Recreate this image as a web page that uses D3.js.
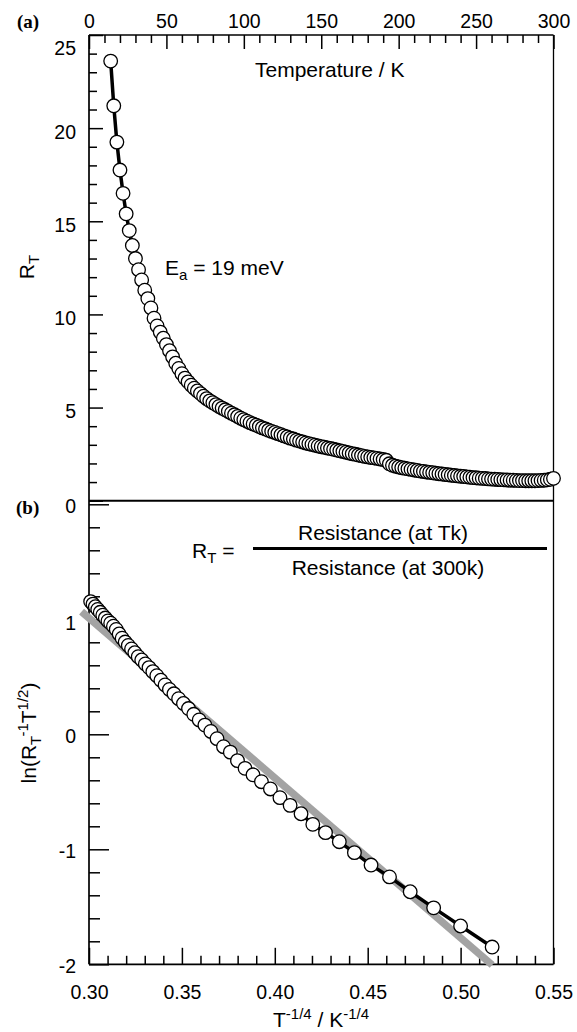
<!DOCTYPE html>
<html>
<head>
<meta charset="utf-8">
<script src="https://cdn.jsdelivr.net/npm/d3@7"></script>
<style>
  body { margin: 0; background: #fff; }
  text { font-family: "Liberation Sans", Arial, Helvetica, sans-serif; fill: #000; }
</style>
</head>
<body>
<div id="chart"></div>
<script>
// ---- data ----
// panel (a): normalised resistance against temperature
const temperature = [
  14, 16, 18, 20, 22, 24, 26, 28, 30, 32,
  34, 36, 38, 40, 42, 44, 46, 48, 50, 52,
  54, 56, 58, 60, 62, 64, 66, 68, 70, 72,
  74, 76, 78, 80, 82, 84, 86, 88, 90, 92,
  94, 96, 98, 100, 102, 104, 106, 108, 110, 112,
  114, 116, 118, 120, 122, 124, 126, 128, 130, 132,
  134, 136, 138, 140, 142, 144, 146, 148, 150, 152,
  154, 156, 158, 160, 162, 164, 166, 168, 170, 172,
  174, 176, 178, 180, 182, 184, 186, 188, 190, 192,
  194, 196, 198, 200, 202, 204, 206, 208, 210, 212,
  214, 216, 218, 220, 222, 224, 226, 228, 230, 232,
  234, 236, 238, 240, 242, 244, 246, 248, 250, 252,
  254, 256, 258, 260, 262, 264, 266, 268, 270, 272,
  274, 276, 278, 280, 282, 284, 286, 288, 290, 292,
  294, 296, 298, 300
];
const resistanceRatio = [
  23.6, 21.2, 19.25, 17.75, 16.5, 15.4, 14.5, 13.7, 13.0, 12.4,
  11.85, 11.3, 10.85, 10.35, 9.8, 9.38, 9.05, 8.72, 8.38, 8.05,
  7.72, 7.38, 7.1, 6.82, 6.58, 6.38, 6.2, 6.04, 5.89, 5.75,
  5.61, 5.48, 5.36, 5.26, 5.16, 5.06, 4.97, 4.88, 4.79, 4.7,
  4.61, 4.52, 4.43, 4.35, 4.27, 4.19, 4.12, 4.05, 3.98, 3.91,
  3.85, 3.78, 3.72, 3.66, 3.6, 3.54, 3.48, 3.42, 3.36, 3.31,
  3.25, 3.2, 3.15, 3.1, 3.06, 3.02, 2.98, 2.94, 2.9, 2.87,
  2.83, 2.8, 2.76, 2.72, 2.68, 2.64, 2.6, 2.56, 2.52, 2.49,
  2.45, 2.42, 2.38, 2.35, 2.32, 2.3, 2.27, 2.24, 2.21, 2.17,
  1.98, 1.9, 1.85, 1.81, 1.77, 1.74, 1.71, 1.68, 1.65, 1.62,
  1.59, 1.57, 1.54, 1.52, 1.5, 1.47, 1.45, 1.43, 1.41, 1.39,
  1.37, 1.35, 1.33, 1.31, 1.3, 1.28, 1.26, 1.24, 1.23, 1.21,
  1.2, 1.19, 1.17, 1.16, 1.15, 1.14, 1.13, 1.12, 1.11, 1.1,
  1.1, 1.09, 1.08, 1.08, 1.07, 1.07, 1.07, 1.07, 1.08, 1.09,
  1.1, 1.12, 1.15, 1.2
];

// panel (b): ln(R_T^-1 T^1/2) for the low temperature points
const lowTemperature = [
  14, 16, 18, 20, 22, 24, 26, 28, 30, 32,
  34, 36, 38, 40, 42, 44, 46, 48, 50, 52,
  54, 56, 58, 60, 62, 64, 66, 68, 70, 72,
  74, 76, 78, 80, 82, 84, 86, 88, 90, 92,
  94, 96, 98, 100, 102, 104, 106, 108, 110, 112,
  114, 116, 118, 120, 122
];
const lnRatio = [
  -1.85, -1.667, -1.509, -1.369, -1.24, -1.137, -1.029, -0.934, -0.855, -0.783,
  -0.691, -0.618, -0.551, -0.475, -0.412, -0.352, -0.296, -0.229, -0.155, -0.108,
  -0.038, 0.025, 0.08, 0.125, 0.174, 0.224, 0.268, 0.31, 0.352, 0.39,
  0.429, 0.47, 0.51, 0.545, 0.58, 0.612, 0.646, 0.675, 0.709, 0.742,
  0.773, 0.802, 0.836, 0.872, 0.912, 0.94, 0.966, 0.986, 1.011, 1.036,
  1.061, 1.086, 1.109, 1.132, 1.154
];

// straight-line fit drawn in grey
const fitX = [0.296, 0.517];
const fitY = [1.066, -2.006];

// tick labels
const tempTicks = [0, 50, 100, 150, 200, 250, 300];
const ratioTicks = [0, 5, 10, 15, 20, 25];
const lnTicks = [-2, -1, 0, 1, 2];
const invTicks = [0.30, 0.35, 0.40, 0.45, 0.50, 0.55];

// ---- layout ----
const W = 577, H = 1032;
const padL = 89, padR = 553.5;
const yTop = 35, yMid = 500.7, yBot = 964.3;

const svg = d3.select('#chart').append('svg').attr('width', W).attr('height', H);

const xTemp = d3.scaleLinear().domain([0, 300]).range([padL, padR]);
const yRatio = d3.scaleLinear().domain([0, 25]).range([yMid, yTop]);
const xInv = d3.scaleLinear().domain([0.30, 0.55]).range([padL, padR]);
const yLn = d3.scaleLinear().domain([-2, 2]).range([yBot, 504.3]);

const notIn = (majors) => (v) => !majors.some((m) => Math.abs(m - v) < 1e-6);

function drawAxis(axis, tx, ty, size = 19.5) {
  const g = svg.append('g').attr('transform', `translate(${tx},${ty})`).call(axis);
  g.select('.domain').remove();
  g.selectAll('line').attr('stroke', '#000').attr('stroke-width', 1.5);
  g.selectAll('text').style('font-size', size + 'px').style('font-family', '"Liberation Sans", Arial, sans-serif').attr('fill', '#000');
  return g;
}

// top temperature axis
drawAxis(d3.axisTop(xTemp).tickValues(tempTicks).tickSize(-14).tickPadding(7), 0, yTop);
drawAxis(
  d3.axisTop(xTemp).tickValues(d3.range(0, 301, 10).filter(notIn(tempTicks))).tickSize(-8).tickFormat(''),
  0, yTop
);

// left axis of panel (a)
const ga = drawAxis(d3.axisLeft(yRatio).tickValues(ratioTicks).tickSize(-14).tickPadding(13), padL, 0);
ga.selectAll('text').attr('y', (d) => (d === 25 ? 13 : d === 0 ? 6 : 4));
drawAxis(
  d3.axisLeft(yRatio).tickValues(d3.range(1, 25, 1).filter(notIn(ratioTicks))).tickSize(-8).tickFormat(''),
  padL, 0
);

// left axis of panel (b)
const gb = drawAxis(
  d3.axisLeft(yLn).tickValues(lnTicks).tickSize(-20).tickPadding(13).tickFormat((d) => (d === 2 ? '' : d)),
  padL, 0
);
gb.selectAll('text').attr('y', (d) => (d === 1 ? 4 : 2));
drawAxis(
  d3.axisLeft(yLn).tickValues(d3.range(-1.8, 2, 0.2).filter(notIn(lnTicks))).tickSize(-11).tickFormat(''),
  padL, 0
);

// bottom axis of panel (b)
drawAxis(
  d3.axisBottom(xInv).tickValues(invTicks).tickSize(-16.5).tickPadding(20.5).tickFormat(d3.format('.2f')),
  0, yBot
);
drawAxis(
  d3.axisBottom(xInv).tickValues(d3.range(0.30, 0.551, 0.01).filter(notIn(invTicks))).tickSize(-8.5).tickFormat(''),
  0, yBot
);

// frame
const frame = svg.append('g').attr('stroke', '#000').attr('fill', 'none');
frame.append('line').attr('x1', padL).attr('x2', padL).attr('y1', yTop).attr('y2', yBot).attr('stroke-width', 1.7);
frame.append('line').attr('x1', padL).attr('x2', padR).attr('y1', yTop).attr('y2', yTop).attr('stroke-width', 1.7);
frame.append('line').attr('x1', padR).attr('x2', padR).attr('y1', yTop).attr('y2', yBot).attr('stroke-width', 1.3);
frame.append('line').attr('x1', padL).attr('x2', padR).attr('y1', yMid).attr('y2', yMid).attr('stroke-width', 2);
frame.append('line').attr('x1', padL).attr('x2', padR).attr('y1', yBot).attr('y2', yBot).attr('stroke-width', 1.7);

// ---- panel (a) data ----
const dataA = temperature.map((t, i) => ({ x: t, y: resistanceRatio[i] }));
svg.append('path')
  .datum(dataA)
  .attr('fill', 'none')
  .attr('stroke', '#000')
  .attr('stroke-width', 3.5)
  .attr('d', d3.line().x((d) => xTemp(d.x)).y((d) => yRatio(d.y)));
svg.append('g')
  .selectAll('circle')
  .data(dataA)
  .enter()
  .append('circle')
  .attr('cx', (d) => xTemp(d.x))
  .attr('cy', (d) => yRatio(d.y))
  .attr('r', 6.8)
  .attr('fill', '#fff')
  .attr('stroke', '#000')
  .attr('stroke-width', 1.3);

// ---- panel (b) data ----
svg.append('line')
  .attr('x1', xInv(fitX[0])).attr('y1', yLn(fitY[0]))
  .attr('x2', xInv(fitX[1])).attr('y2', yLn(fitY[1]))
  .attr('stroke', '#a3a3a3')
  .attr('stroke-width', 7.5);

const dataB = lowTemperature.map((t, i) => ({ x: Math.pow(t, -0.25), y: lnRatio[i] })).reverse();
svg.append('path')
  .datum(dataB)
  .attr('fill', 'none')
  .attr('stroke', '#000')
  .attr('stroke-width', 3.5)
  .attr('d', d3.line().x((d) => xInv(d.x)).y((d) => yLn(d.y)));
svg.append('g')
  .selectAll('circle')
  .data(dataB)
  .enter()
  .append('circle')
  .attr('cx', (d) => xInv(d.x))
  .attr('cy', (d) => yLn(d.y))
  .attr('r', 6.8)
  .attr('fill', '#fff')
  .attr('stroke', '#000')
  .attr('stroke-width', 1.3);

// ---- labels ----
svg.append('text').attr('x', 17).attr('y', 28)
  .style('font-family', '"Liberation Serif", "Times New Roman", serif').style('font-weight', 'bold').style('font-size', '19px')
  .text('(a)');
svg.append('text').attr('x', 16).attr('y', 514)
  .style('font-family', '"Liberation Serif", "Times New Roman", serif').style('font-weight', 'bold').style('font-size', '19px')
  .text('(b)');

svg.append('text').attr('x', 255).attr('y', 77).style('font-size', '21px').text('Temperature / K');

const ea = svg.append('text').attr('x', 165).attr('y', 275).style('font-size', '21px');
ea.append('tspan').text('E');
ea.append('tspan').attr('dy', 5).style('font-size', '15px').text('a');
ea.append('tspan').attr('dy', -5).text(' = 19 meV');

// R_T axis title
const rt = svg.append('text').attr('transform', 'translate(34,267) rotate(-90)')
  .attr('text-anchor', 'middle').style('font-size', '21px');
rt.append('tspan').text('R');
rt.append('tspan').attr('dy', 5).style('font-size', '15px').text('T');

// ln axis title
const ln = svg.append('text').attr('transform', 'translate(36,733) rotate(-90)')
  .attr('text-anchor', 'middle').style('font-size', '21px');
ln.append('tspan').text('ln(R');
ln.append('tspan').attr('dy', 5).style('font-size', '15px').text('T');
ln.append('tspan').attr('dy', -13).style('font-size', '15px').text('-1');
ln.append('tspan').attr('dy', 8).text('T');
ln.append('tspan').attr('dy', -8).style('font-size', '15px').text('1/2');
ln.append('tspan').attr('dy', 8).text(')');

// x axis title of panel (b)
const xt = svg.append('text').attr('x', 321).attr('y', 1027)
  .attr('text-anchor', 'middle').style('font-size', '21px');
xt.append('tspan').text('T');
xt.append('tspan').attr('dy', -8).style('font-size', '15px').text('-1/4');
xt.append('tspan').attr('dy', 8).text(' / K');
xt.append('tspan').attr('dy', -8).style('font-size', '15px').text('-1/4');

// R_T definition
const rdef = svg.append('text').attr('x', 192).attr('y', 558).style('font-size', '21px');
rdef.append('tspan').text('R');
rdef.append('tspan').attr('dy', 5).style('font-size', '15px').text('T');
rdef.append('tspan').attr('dy', -5).text(' =');
svg.append('line').attr('x1', 253).attr('x2', 547).attr('y1', 548.5).attr('y2', 548.5)
  .attr('stroke', '#000').attr('stroke-width', 3);
svg.append('text').attr('x', 383).attr('y', 540).attr('text-anchor', 'middle')
  .style('font-size', '21px').text('Resistance (at Tk)');
svg.append('text').attr('x', 388).attr('y', 575).attr('text-anchor', 'middle')
  .style('font-size', '21px').text('Resistance (at 300k)');
</script>
</body>
</html>
